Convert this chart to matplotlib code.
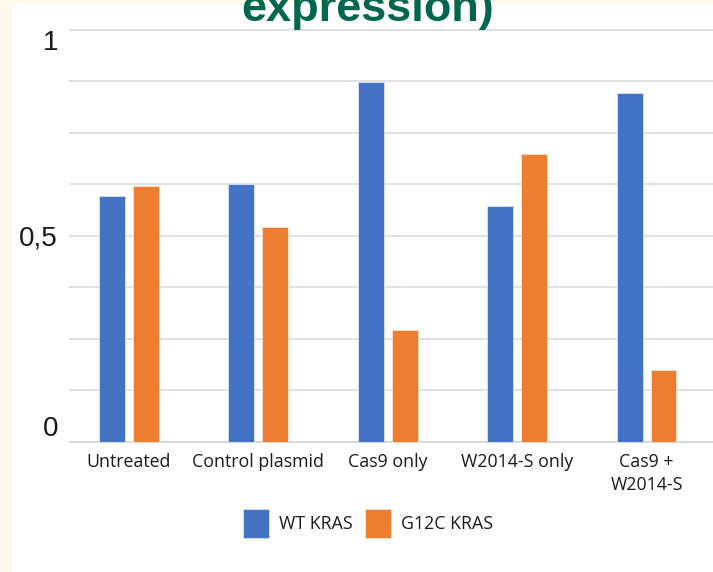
import numpy as np
import matplotlib

matplotlib.use("Agg")

import matplotlib.pyplot as plt
from matplotlib.patches import Rectangle


# relative KRAS expression per treatment
categories = ["Untreated", "Control plasmid", "Cas9 only", "W2014-S only", "Cas9 +\nW2014-S"]
wt_kras = [0.597, 0.625, 0.873, 0.573, 0.848]
g12c_kras = [0.622, 0.522, 0.272, 0.698, 0.173]
series_names = ["WT KRAS", "G12C KRAS"]
y_ticks = np.arange(0, 1.001, 0.125)
y_tick_labels = {0.0: "0", 0.5: "0,5", 1.0: "1"}

BLUE = "#4472C4"
ORANGE = "#ED7D31"
GRID = "#D9D9D9"
TITLE_GREEN = "#00674F"
CREAM = "#FFF9EA"

fig = plt.figure(figsize=(7.13, 5.72), dpi=100)
fig.patch.set_facecolor(CREAM)
# white slide panel
fig.patches.append(Rectangle((12 / 713, 0), 1, 1 - 3 / 572, transform=fig.transFigure,
                             facecolor="white", edgecolor="none", zorder=0))

ax = fig.add_axes([69 / 713, (572 - 443.6) / 572, 644 / 713, (443.6 - 27.9) / 572])
ax.set_zorder(1)
ax.set_facecolor("white")

x = np.arange(len(categories))
width = 0.2
offset = 0.131
ax.bar(x - offset, wt_kras, width, color=BLUE, edgecolor="#DCE4F5", linewidth=0.6,
       label=series_names[0], zorder=3)
ax.bar(x + offset, g12c_kras, width, color=ORANGE, edgecolor="#FBE1CF", linewidth=0.6,
       label=series_names[1], zorder=3)

ax.set_xlim(-0.462, 4.513)
ax.set_ylim(-0.005, 1.005)

for yv in y_ticks:
    ax.axhline(yv, color=GRID, linewidth=1.5 if yv == 0 else 1.1, zorder=1)

ax.set_yticks(y_ticks)
ax.set_yticklabels([y_tick_labels.get(round(v, 3), "") for v in y_ticks],
                   family="Liberation Sans", fontsize=20, color="#1A1A1A")
for lbl, v in zip(ax.get_yticklabels(), y_ticks):
    if v == 1.0:
        lbl.set_va("top")
    elif v == 0.0:
        lbl.set_va("bottom")
ax.tick_params(axis="y", length=0, pad=8)

ax.set_xticks(x)
ax.set_xticklabels(categories, family="Open Sans", fontsize=12.8, color="#1A1A1A",
                   linespacing=1.35)
ax.tick_params(axis="x", length=0, pad=7)

for side in ax.spines.values():
    side.set_visible(False)

# title runs off the top edge of the slide
fig.text(368 / 713, 1 - 21 / 572, "expression)", ha="center", va="baseline",
         family="Liberation Sans", fontweight="bold", fontsize=32.5, color=TITLE_GREEN,
         zorder=5)

fig.legend(loc="center", bbox_to_anchor=(368 / 713, 48.5 / 572), ncol=2, frameon=False,
           prop={"family": "Open Sans", "size": 12.8}, handlelength=1.45, handleheight=2.1,
           handletextpad=0.55, columnspacing=0.7, borderpad=0, labelcolor="#1A1A1A")

fig.savefig("out.png", dpi=100, facecolor=fig.get_facecolor())
